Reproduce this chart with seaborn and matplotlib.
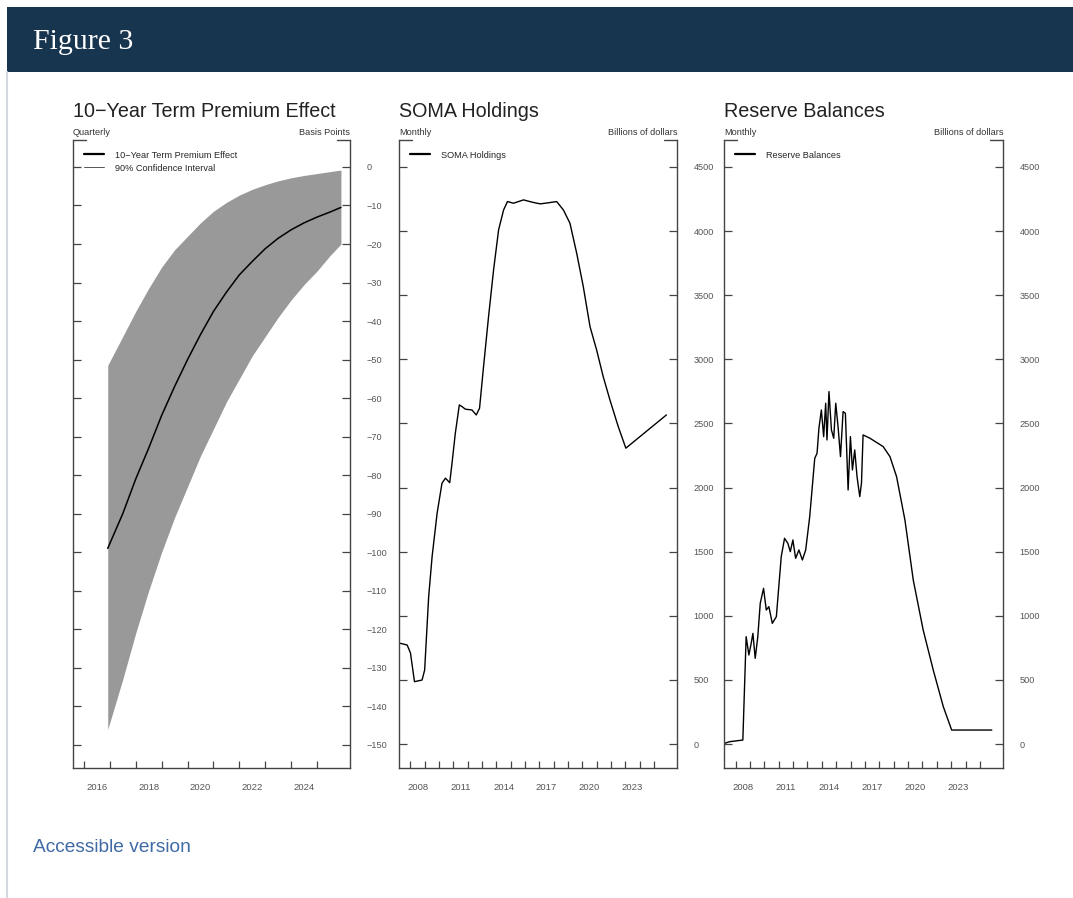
import matplotlib
matplotlib.use("Agg")
import matplotlib.pyplot as plt
import seaborn as sns
import pandas as pd
from matplotlib.patches import Rectangle
from matplotlib.lines import Line2D

# --- data ---
# panel 1: quarterly projection, decimal years
tp_year = [2016.92, 2017.5, 2018.0, 2018.5, 2019.0, 2019.5, 2020.0, 2020.5, 2021.0, 2021.5,
           2022.0, 2022.5, 2023.0, 2023.5, 2024.0, 2024.5, 2025.0, 2025.5, 2025.92]
tp_effect = [-99, -90, -81, -73, -64.5, -57, -50, -43.5, -37.5, -32.5,
             -28, -24.5, -21.2, -18.5, -16.3, -14.5, -13.0, -11.7, -10.5]
tp_upper = [-51.5, -44, -37.5, -31.5, -26, -21.5, -18, -14.5, -11.5, -9.2,
            -7.3, -5.8, -4.6, -3.6, -2.8, -2.2, -1.7, -1.2, -0.8]
tp_lower = [-146, -133, -121, -110, -100, -91, -83, -75, -68, -61,
            -55, -49, -44, -39, -34.5, -30.5, -27, -23, -20]

# panel 2: SOMA holdings, billions of dollars
soma_year = [2007.3, 2007.77, 2008.0, 2008.28, 2008.81, 2008.99, 2009.27, 2009.51, 2009.86,
             2010.2, 2010.44, 2010.74, 2010.9, 2011.13, 2011.41, 2011.6, 2011.83, 2012.29,
             2012.59, 2012.82, 2013.1, 2013.45, 2013.8, 2014.15, 2014.5, 2014.77, 2015.19,
             2015.89, 2016.5, 2017.05, 2017.6, 2018.2, 2018.67, 2019.13, 2019.6, 2020.06,
             2020.53, 2020.99, 2021.45, 2021.92, 2022.5, 2023.03, 2025.86]
soma_value = [785, 772, 710, 486, 499, 577, 1149, 1461, 1800,
              2034, 2073, 2038, 2190, 2423, 2644, 2631, 2611, 2605,
              2566, 2618, 2943, 3333, 3697, 4009, 4165, 4230, 4217,
              4243, 4225, 4212, 4220, 4230, 4165, 4061, 3827, 3567,
              3255, 3073, 2865, 2683, 2475, 2307, 2566]

# panel 3: reserve balances, billions of dollars
res_year = [2007.23, 2007.58, 2008.51, 2008.74, 2008.93, 2009.09, 2009.21, 2009.37, 2009.55,
            2009.72, 2009.95, 2010.14, 2010.32, 2010.56, 2010.84, 2011.18, 2011.41, 2011.64,
            2011.81, 2011.99, 2012.18, 2012.41, 2012.65, 2012.88, 2013.16, 2013.51, 2013.67,
            2013.8, 2013.97, 2014.13, 2014.27, 2014.36, 2014.5, 2014.67, 2014.83, 2014.97,
            2015.13, 2015.3, 2015.48, 2015.64, 2015.83, 2015.99, 2016.13, 2016.29, 2016.45,
            2016.64, 2016.76, 2016.87, 2017.34, 2018.27, 2018.74, 2019.2, 2019.78, 2020.36,
            2021.05, 2021.75, 2022.45, 2023.03, 2025.82]
res_value = [5, 18, 31, 837, 694, 785, 863, 668, 837,
             1097, 1214, 1045, 1071, 941, 993, 1461, 1604, 1565,
             1500, 1591, 1448, 1513, 1435, 1513, 1773, 2228, 2267,
             2462, 2605, 2397, 2657, 2371, 2748, 2449, 2384, 2657,
             2475, 2241, 2592, 2579, 1981, 2397, 2137, 2293, 2085,
             1929, 2034, 2410, 2385, 2319, 2241, 2085, 1747, 1279,
             889, 577, 291, 109, 109]

titles = ["10\u2212Year Term Premium Effect", "SOMA Holdings", "Reserve Balances"]
freq_labels = ["Quarterly", "Monthly", "Monthly"]
unit_labels = ["Basis Points", "Billions of dollars", "Billions of dollars"]

sns.set_style("ticks")
plt.rcParams["font.family"] = ["Liberation Sans", "DejaVu Sans"]

fig = plt.figure(figsize=(10.73, 8.98), dpi=100)
W, H = 1073, 898

# page header and border
fig.patches.append(Rectangle((7 / W, 1 - 72 / H), 1 - 7 / W, 65 / H, transform=fig.transFigure,
                             facecolor="#18354f", edgecolor="none", zorder=0))
fig.text(33 / W, 1 - 42 / H, "Figure 3", color="white", fontsize=21.5,
         family=["Liberation Serif", "DejaVu Serif"], va="center", ha="left")
fig.add_artist(Line2D([7 / W, 7 / W], [0, 1 - 72 / H], transform=fig.transFigure,
                      color="#d3d9df", lw=1.5))
fig.text(33 / W, 1 - 847 / H, "Accessible version", color="#3f6aa5", fontsize=13.8,
         va="center", ha="left")

lefts = [73, 399, 724]
widths = [277, 278, 279]
axes = [fig.add_axes([l / W, 1 - 768 / H, w / W, 628 / H]) for l, w in zip(lefts, widths)]

spine_c = "#444444"
tick_c = "#555555"
leg_kw = dict(loc="upper left", bbox_to_anchor=(0.0, 1.0), frameon=False, fontsize=6.6,
              handlelength=2.2, handletextpad=1.2, labelspacing=0.45, borderaxespad=0.75)

# panel 1
ax = axes[0]
ax.fill_between(tp_year, tp_lower, tp_upper, color="#999999", linewidth=0)
sns.lineplot(x=tp_year, y=tp_effect, ax=ax, color="black", linewidth=1.1)
ax.set_xlim(2015.58, 2026.27)
ax.set_ylim(-156, 7)
ax.set_yticks(range(0, -151, -10))
ax.set_xticks(range(2016, 2026))
ax.set_xticks([y + 0.5 for y in range(2016, 2025, 2)],
              labels=[str(y) for y in range(2016, 2025, 2)], minor=True)
handles = [Line2D([], [], color="black", lw=1.6), Line2D([], [], color="#555555", lw=0.7)]
ax.legend(handles, ["10\u2212Year Term Premium Effect", "90% Confidence Interval"], **leg_kw)

# panel 2 and 3
for ax, xs, ys, name in [(axes[1], soma_year, soma_value, "SOMA Holdings"),
                          (axes[2], res_year, res_value, "Reserve Balances")]:
    df = pd.DataFrame({"year": xs, "value": ys})
    sns.lineplot(data=df, x="year", y="value", ax=ax, color="black", linewidth=1.0, label=name)
    ax.set_xlim(2007.2, 2026.6)
    ax.set_ylim(-187, 4710)
    ax.set_yticks(range(0, 4501, 500))
    ax.set_xticks(range(2008, 2026))
    ax.set_xticks([y + 0.5 for y in range(2008, 2024, 3)],
                  labels=[str(y) for y in range(2008, 2024, 3)], minor=True)
    leg = ax.legend(**leg_kw)
    for h in leg.get_lines():
        h.set_linewidth(1.6)

for i, ax in enumerate(axes):
    ax.set_xlabel("")
    ax.set_ylabel("")
    ax.spines["top"].set_visible(False)
    for s in ["left", "right", "bottom"]:
        ax.spines[s].set_visible(True)
        ax.spines[s].set_color(spine_c)
        ax.spines[s].set_linewidth(1.0)
    # short corner stubs of the open top frame
    for xx in ([0, 0.047], [0.953, 1]):
        ax.add_line(Line2D(xx, [1, 1], transform=ax.transAxes, color=spine_c, lw=1.0,
                           clip_on=False))
    ax.tick_params(axis="y", which="major", direction="in", length=6, width=0.9,
                   left=True, right=True, labelleft=False, labelright=True,
                   labelsize=6.6, labelcolor=tick_c, color=spine_c, pad=12)
    ax.tick_params(axis="x", which="major", direction="in", length=5, width=0.9,
                   labelbottom=False, color=spine_c)
    ax.tick_params(axis="x", which="minor", length=0, labelsize=6.8, labelcolor=tick_c, pad=11)
    ax.text(0, 1.004, freq_labels[i], transform=ax.transAxes, fontsize=6.6, color="#333333",
            ha="left", va="bottom")
    ax.text(1, 1.004, unit_labels[i], transform=ax.transAxes, fontsize=6.6, color="#333333",
            ha="right", va="bottom")
    ax.text(0, 1.031, titles[i], transform=ax.transAxes, fontsize=14.2, color="#222222",
            ha="left", va="bottom")

fig.savefig("out.png", dpi=100)
